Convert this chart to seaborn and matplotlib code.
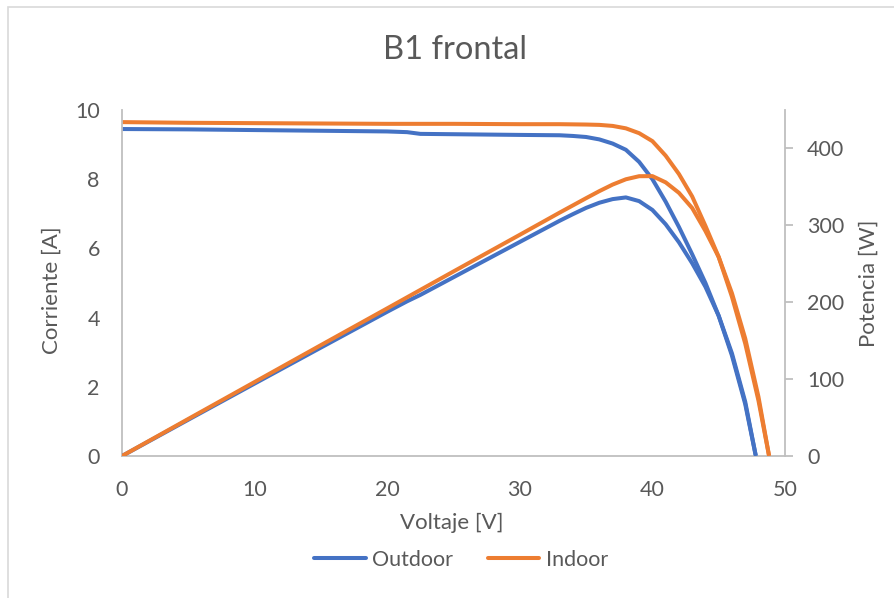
import matplotlib
matplotlib.use("Agg")
import matplotlib.pyplot as plt
import seaborn as sns
import pandas as pd
from matplotlib.lines import Line2D
from matplotlib.patches import Rectangle

# ---- data ----
v_out = [0, 5, 10, 15, 20, 21.5, 22.5, 25, 30, 33, 34, 35, 36, 37, 38, 39, 40, 41, 42, 43, 44, 45, 46, 47, 47.8]
i_out = [9.45, 9.44, 9.42, 9.40, 9.38, 9.36, 9.31, 9.30, 9.28, 9.27, 9.25, 9.22, 9.15, 9.03, 8.85, 8.50,
         8.00, 7.35, 6.62, 5.83, 5.00, 4.05, 2.90, 1.50, 0.0]
p_out = [0, 47.2, 94.2, 141.0, 187.6, 201.2, 209.5, 232.5, 278.4, 305.9, 314.5, 322.7, 329.4, 334.1, 336.3,
         331.5, 320.0, 301.4, 278.0, 250.7, 220.0, 182.3, 133.4, 70.5, 0.0]

v_in = [0, 5, 10, 15, 20, 25, 30, 33, 35, 36, 37, 38, 39, 40, 41, 42, 43, 44, 45, 46, 47, 48, 48.8]
i_in = [9.65, 9.63, 9.62, 9.61, 9.60, 9.60, 9.59, 9.59, 9.58, 9.57, 9.54, 9.47, 9.33, 9.10, 8.68, 8.15,
        7.50, 6.65, 5.75, 4.60, 3.25, 1.60, 0.0]
p_in = [0, 48.2, 96.2, 144.2, 192.0, 240.0, 287.7, 316.5, 335.3, 344.5, 353.0, 359.9, 363.9, 364.0, 355.9,
        342.3, 322.5, 292.6, 258.8, 211.6, 152.8, 76.8, 0.0]

series_names = ["Outdoor", "Indoor"]
x_ticks = [0, 10, 20, 30, 40, 50]
y_ticks = [0, 2, 4, 6, 8, 10]
y2_ticks = [0, 100, 200, 300, 400]

colors = {"Outdoor": "#4472C4", "Indoor": "#ED7D31"}
txt = "#595959"
grid_c = "#BFBFBF"

sns.set_theme(style="white")
plt.rcParams['font.family'] = ['Lato', 'DejaVu Sans']

df_out = pd.DataFrame({"V": v_out, "I": i_out, "P": p_out})
df_in = pd.DataFrame({"V": v_in, "I": i_in, "P": p_in})

fig = plt.figure(figsize=(8.94, 5.98), dpi=100)
ax = fig.add_axes([122 / 894, 1 - 456 / 598, (785 - 122) / 894, (456 - 110) / 598])
ax2 = ax.twinx()

lw = 2.9
sns.lineplot(data=df_out, x="V", y="I", ax=ax, color=colors["Outdoor"], lw=lw, sort=False)
sns.lineplot(data=df_in, x="V", y="I", ax=ax, color=colors["Indoor"], lw=lw, sort=False)
sns.lineplot(data=df_out, x="V", y="P", ax=ax2, color=colors["Outdoor"], lw=lw, sort=False)
sns.lineplot(data=df_in, x="V", y="P", ax=ax2, color=colors["Indoor"], lw=lw, sort=False)
for a in (ax, ax2):
    for ln in a.get_lines():
        ln.set_solid_joinstyle('round')
        ln.set_solid_capstyle('butt')

for a in (ax, ax2):
    a.set_xlim(0, 50)
    a.grid(False)
    for s in a.spines.values():
        s.set_visible(False)

ax.set_ylim(0, 10)
ax2.set_ylim(0, 450)

ax.set_xticks(x_ticks)
ax.set_yticks(y_ticks)
ax2.set_yticks(y2_ticks)

ax.spines['left'].set_visible(True)
ax.spines['bottom'].set_visible(True)
ax2.spines['right'].set_visible(True)
for s in (ax.spines['left'], ax.spines['bottom'], ax2.spines['right']):
    s.set_color(grid_c)
    s.set_linewidth(1.3)

ax.tick_params(axis='x', length=0, pad=17, labelsize=15.5, labelcolor=txt)
ax.tick_params(axis='y', length=0, pad=16, labelsize=15.5, labelcolor=txt, left=False)
ax2.tick_params(axis='y', length=6, width=1.3, color=grid_c, pad=10, labelsize=15.5, labelcolor=txt,
                right=True, direction='out')

ax.set_xlabel("Voltaje [V]", fontsize=16, color=txt, va='center')
ax.xaxis.set_label_coords(0.497, -0.194)
ax.set_ylabel("Corriente [A]", fontsize=16, color=txt, va='center')
ax.yaxis.set_label_coords(-0.1056, 0.48)
ax2.set_ylabel("Potencia [W]", fontsize=16, color=txt, va='center', rotation=90)
ax2.yaxis.set_label_coords(1.1267, 0.5)

fig.text(455 / 894, 1 - 50 / 598, "B1 frontal", fontsize=23.5, color=txt, ha='center', va='center')

handles = [Line2D([0], [0], color=colors[n], lw=lw) for n in series_names]
fig.legend(handles, series_names, loc='center', bbox_to_anchor=(461 / 894, 1 - 560 / 598),
           ncol=2, frameon=False, fontsize=15.5, labelcolor=txt, handlelength=2.4,
           handletextpad=0.3, columnspacing=1.6)

fig.patches.append(Rectangle((8 / 894, -0.1), 1.2, 1 - 7 / 598 + 0.1, transform=fig.transFigure,
                             fill=False, edgecolor="#D9D9D9", lw=1.2))

fig.savefig("out.png", dpi=100)
